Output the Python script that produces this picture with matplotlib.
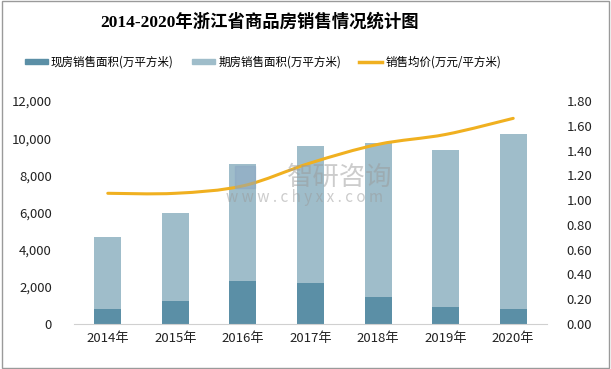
import numpy as np
import matplotlib.pyplot as plt
from matplotlib.path import Path
from matplotlib.patches import PathPatch, Rectangle
from matplotlib.lines import Line2D

plt.rcParams['font.family'] = ['Noto Sans CJK SC', 'DejaVu Sans']

years = ['2014年', '2015年', '2016年', '2017年', '2018年', '2019年', '2020年']
existing = [807, 1238, 2314, 2207, 1453, 915, 807]
total = [4682, 5974, 8628, 9580, 9725, 9365, 10226]
presale = [t - e for t, e in zip(total, existing)]
price = [1.055, 1.055, 1.115, 1.30, 1.45, 1.53, 1.66]

c_exist = '#5b8fa6'
c_pre = '#9fbdca'
c_line = '#f0b020'

fig = plt.figure(figsize=(6.11, 3.69), dpi=100)
ax = fig.add_axes([74 / 611, 1 - 324 / 369, 473 / 611, 223 / 369])
x = np.arange(len(years))
ax.bar(x, existing, width=0.4, color=c_exist, zorder=2)
ax.bar(x, presale, width=0.4, bottom=existing, color=c_pre, zorder=2)
ax.set_xlim(-0.5, len(years) - 0.5)
ax.set_ylim(0, 12000)
ax.set_yticks(np.arange(0, 12001, 2000))
ax.set_yticklabels([f'{v:,}' for v in range(0, 12001, 2000)])
ax.set_xticks(x)
ax.set_xticklabels(years)
for s in ['top', 'right', 'left']:
    ax.spines[s].set_visible(False)
ax.spines['bottom'].set_color('#d0d0d0')
ax.tick_params(axis='both', length=0, labelsize=9.5, colors='#222222')
ax.tick_params(axis='y', pad=16)
ax.tick_params(axis='x', pad=6)

ax2 = ax.twinx()
ax2.set_ylim(0, 1.8)
ax2.set_yticks(np.arange(0, 1.81, 0.2))
ax2.set_yticklabels([f'{v:.2f}' for v in np.arange(0, 1.81, 0.2)])
for s in ax2.spines.values():
    s.set_visible(False)
ax2.tick_params(axis='y', length=0, labelsize=9.5, colors='#222222', pad=14)

# smoothed line through the points (Catmull-Rom as cubic Bezier)
pts = np.column_stack([x, price])
verts = [pts[0]]
codes = [Path.MOVETO]
for i in range(len(pts) - 1):
    p0 = pts[i - 1] if i > 0 else pts[i]
    p1, p2 = pts[i], pts[i + 1]
    p3 = pts[i + 2] if i + 2 < len(pts) else pts[i + 1]
    c1 = p1 + (p2 - p0) / 6
    c2 = p2 - (p3 - p1) / 6
    verts += [c1, c2, p2]
    codes += [Path.CURVE4] * 3
ax2.add_patch(PathPatch(Path(verts, codes), fill=False, edgecolor=c_line,
                        lw=2.2, zorder=3, capstyle='round'))

# watermark
fig.text(340 / 611, 1 - 177 / 369, '智研咨询', ha='center', va='center', fontsize=19,
         color='#9a9a9a', alpha=0.5)
fig.text(305 / 611, 1 - 198 / 369, 'w w w . c h y x x . c o m', ha='center', va='center',
         fontsize=11, color='#9a9a9a', alpha=0.5)
fig.patches.append(Rectangle((235 / 611, 1 - 188 / 369), 20 / 611, 22 / 369,
                             transform=fig.transFigure, color='#8aa6c4', alpha=0.5))

fig.text(260 / 611, 1 - 22 / 369, '2014-2020年浙江省商品房销售情况统计图', ha='center',
         va='center', fontsize=12.5, fontweight='bold',
         family=['Liberation Serif', 'Noto Sans CJK SC'])

handles = [Rectangle((0, 0), 1, 1, color=c_exist),
           Rectangle((0, 0), 1, 1, color=c_pre),
           Line2D([], [], color=c_line, lw=2.5)]
labels = ['现房销售面积(万平方米)', '期房销售面积(万平方米)', '销售均价(万元/平方米)']
leg = fig.legend(handles, labels, loc='center', ncol=3, frameon=False,
                 bbox_to_anchor=(263 / 611, 1 - 62 / 369), fontsize=8.3,
                 handlelength=2.0, handleheight=0.35, columnspacing=1.6,
                 handletextpad=0.25)

fig.patches.append(Rectangle((0.004, 0.004), 0.992, 0.992, transform=fig.transFigure,
                             fill=False, edgecolor='#9a9a9a', lw=1))

fig.savefig('out.png', dpi=100)
